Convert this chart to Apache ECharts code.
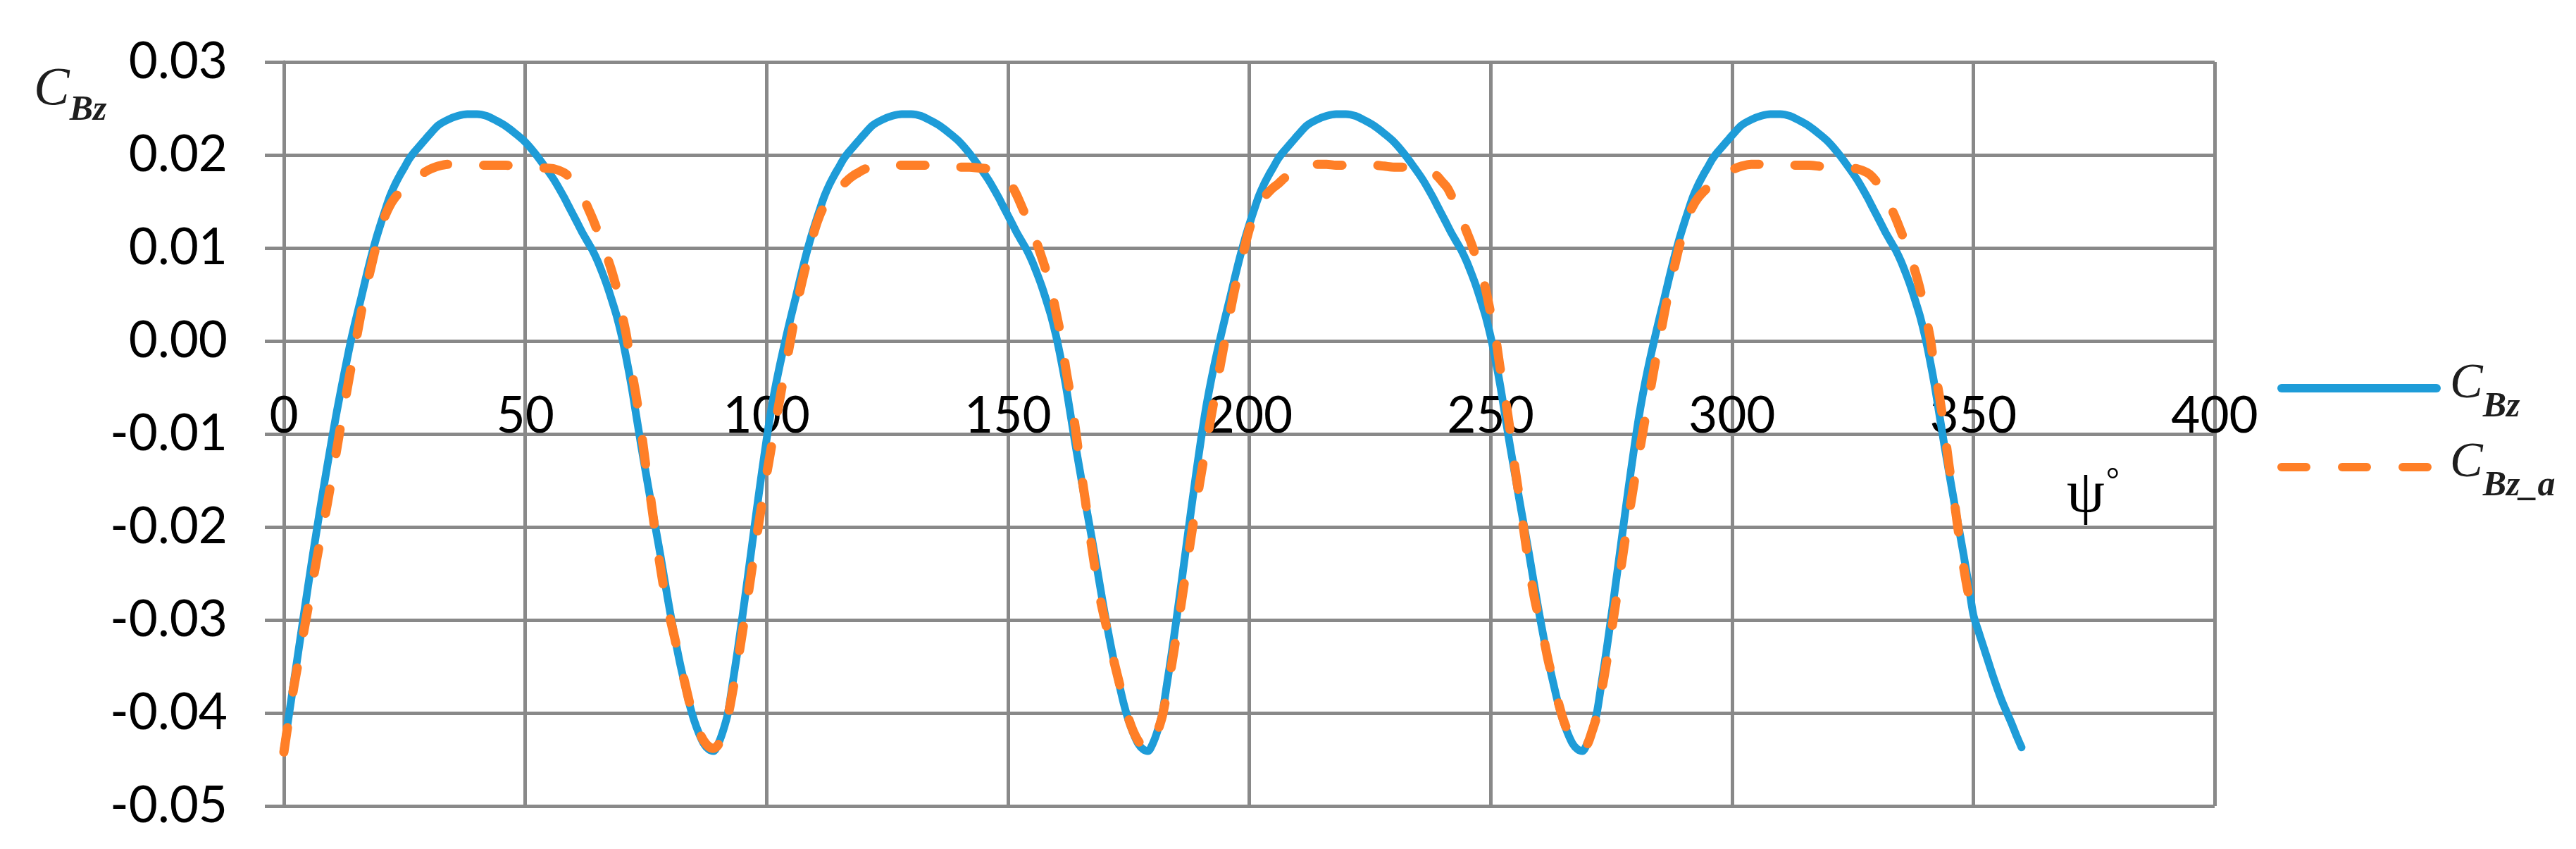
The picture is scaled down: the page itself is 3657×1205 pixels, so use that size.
<!DOCTYPE html>
<html>
<head>
<meta charset="utf-8">
<script src="https://cdn.jsdelivr.net/npm/echarts@6/dist/echarts.min.js"></script>
<style>
html,body{margin:0;padding:0;background:#fff;}
#chart{width:3657px;height:1205px;}
</style>
</head>
<body>
<div id="chart"></div>
<script>
// psi (degrees) and C_Bz values
const psi = [
0,1,2,3,4,5,6,7,8,9,10,11,12,13,14,15,16,17,18,19,20,21,22,23,24,25,26,27,28,29,30,32,34,36,38,40,42,44,46,48,50,52,54,56,58,59,60,61,62,63,64,65,66,67,68,69,70,71,72,73,74,75,76,77,78,79,80,81,82,83,84,85,86,87,88,89,
90,91,92,93,94,95,96,97,98,99,100,101,102,103,104,105,106,107,108,109,110,111,112,113,114,115,116,117,118,119,120,122,124,126,128,130,132,134,136,138,140,142,144,146,148,149,150,151,152,153,154,155,156,157,158,159,160,161,162,163,164,165,166,167,168,169,170,171,172,173,174,175,176,177,178,179,
180,181,182,183,184,185,186,187,188,189,190,191,192,193,194,195,196,197,198,199,200,201,202,203,204,205,206,207,208,209,210,212,214,216,218,220,222,224,226,228,230,232,234,236,238,239,240,241,242,243,244,245,246,247,248,249,250,251,252,253,254,255,256,257,258,259,260,261,262,263,264,265,266,267,268,269,
270,271,272,273,274,275,276,277,278,279,280,281,282,283,284,285,286,287,288,289,290,291,292,293,294,295,296,297,298,299,300,302,304,306,308,310,312,314,316,318,320,322,324,326,328,329,330,331,332,333,334,335,336,337,338,339,340,341,342,343,344,345,346,347,348,349,
350,351,352,353,354,355,356,357,358,359,360
];
const cbz = [
-0.0439,-0.0404,-0.0369,-0.0334,-0.0299,-0.0264,-0.0230,-0.0197,-0.0165,-0.0134,-0.0104,-0.0075,-0.0048,-0.0022,0.0003,0.0025,0.0046,0.0068,0.0089,0.0108,0.0125,0.0141,0.0156,0.0168,0.0178,0.0187,0.0196,0.0203,0.0209,0.0215,
0.0221,0.0232,0.0238,0.0242,0.0244,0.0244,0.0242,0.0237,0.0231,0.0223,0.0214,0.0202,0.0188,0.0173,0.0155,
0.0145,0.0135,0.0125,0.0115,0.0106,0.0097,0.0086,0.0073,0.0059,0.0043,0.0026,0.0005,-0.0020,-0.0048,-0.0080,-0.0112,-0.0142,-0.0172,-0.0201,-0.0230,-0.0261,-0.0291,-0.0319,-0.0345,-0.0368,-0.0390,-0.0408,-0.0422,-0.0433,-0.0439,-0.0441,
-0.0433,-0.0419,-0.0400,-0.0367,-0.0333,-0.0296,-0.0258,-0.0219,-0.0180,-0.0142,-0.0106,-0.0073,-0.0045,-0.0020,0.0003,0.0025,0.0046,0.0068,0.0089,0.0108,0.0125,0.0141,0.0156,0.0168,0.0178,0.0187,0.0196,0.0203,0.0209,0.0215,
0.0221,0.0232,0.0238,0.0242,0.0244,0.0244,0.0242,0.0237,0.0231,0.0223,0.0214,0.0202,0.0188,0.0173,0.0155,
0.0145,0.0135,0.0125,0.0115,0.0106,0.0097,0.0086,0.0073,0.0059,0.0043,0.0026,0.0005,-0.0020,-0.0048,-0.0080,-0.0112,-0.0142,-0.0172,-0.0201,-0.0230,-0.0261,-0.0291,-0.0319,-0.0345,-0.0368,-0.0390,-0.0408,-0.0422,-0.0433,-0.0439,-0.0441,
-0.0433,-0.0419,-0.0400,-0.0367,-0.0333,-0.0296,-0.0258,-0.0219,-0.0180,-0.0142,-0.0106,-0.0073,-0.0045,-0.0020,0.0003,0.0025,0.0046,0.0068,0.0089,0.0108,0.0125,0.0141,0.0156,0.0168,0.0178,0.0187,0.0196,0.0203,0.0209,0.0215,
0.0221,0.0232,0.0238,0.0242,0.0244,0.0244,0.0242,0.0237,0.0231,0.0223,0.0214,0.0202,0.0188,0.0173,0.0155,
0.0145,0.0135,0.0125,0.0115,0.0106,0.0097,0.0086,0.0073,0.0059,0.0043,0.0026,0.0005,-0.0020,-0.0048,-0.0080,-0.0112,-0.0142,-0.0172,-0.0201,-0.0230,-0.0261,-0.0291,-0.0319,-0.0345,-0.0368,-0.0390,-0.0408,-0.0422,-0.0433,-0.0439,-0.0441,
-0.0433,-0.0419,-0.0400,-0.0367,-0.0333,-0.0296,-0.0258,-0.0219,-0.0180,-0.0142,-0.0106,-0.0073,-0.0045,-0.0020,0.0003,0.0025,0.0046,0.0068,0.0089,0.0108,0.0125,0.0141,0.0156,0.0168,0.0178,0.0187,0.0196,0.0203,0.0209,0.0215,
0.0221,0.0232,0.0238,0.0242,0.0244,0.0244,0.0242,0.0237,0.0231,0.0223,0.0214,0.0202,0.0188,0.0173,0.0155,
0.0145,0.0135,0.0125,0.0115,0.0106,0.0097,0.0086,0.0073,0.0059,0.0043,0.0026,0.0005,-0.0020,-0.0048,-0.0080,-0.0112,-0.0142,-0.0172,-0.0201,-0.0230,-0.0261,
-0.0294,-0.0311,-0.0327,-0.0343,-0.0359,-0.0374,-0.0388,-0.0400,-0.0412,-0.0425,-0.0437
];
// psi (degrees) and C_Bz_a values
const psiA = [
0,1,2,3,4,5,6,7,8,9,10,11,12,13,14,15,16,17,18,19,20,21,22,23,24,25,26,27,28,29,30,32,34,36,38,40,42,44,46,48,50,52,54,56,58,59,60,61,62,63,64,65,66,67,68,69,70,71,72,73,74,75,76,77,78,79,80,81,82,83,84,85,86,87,88,89,
90,91,92,93,94,95,96,97,98,99,100,101,102,103,104,105,106,107,108,109,110,111,112,113,114,115,116,117,118,119,120,122,124,126,128,130,132,134,136,138,140,142,144,146,148,149,150,151,152,153,154,155,156,157,158,159,160,161,162,163,164,165,166,167,168,169,170,171,172,173,174,175,176,177,178,179,
180,181,182,183,184,185,186,187,188,189,190,191,192,193,194,195,196,197,198,199,200,201,202,203,204,205,206,207,208,209,210,212,214,216,218,220,222,224,226,228,230,232,234,236,238,239,240,241,242,243,244,245,246,247,248,249,250,251,252,253,254,255,256,257,258,259,260,261,262,263,264,265,266,267,268,269,
270,271,272,273,274,275,276,277,278,279,280,281,282,283,284,285,286,287,288,289,290,291,292,293,294,295,296,297,298,299,300,302,304,306,308,310,312,314,316,318,320,322,324,326,328,329,330,331,332,333,334,335,336,337,338,339,340,341,342,343,344,345,346,347,348,349,
350
];
const cbzA = [
-0.0442,-0.0407,-0.0374,-0.0345,-0.0316,-0.0287,-0.0258,-0.0229,-0.0202,-0.0175,-0.0145,-0.0115,-0.0084,-0.0055,-0.0026,0.0002,0.0030,0.0056,0.0078,0.0100,0.0120,0.0135,0.0146,0.0154,0.0160,0.0165,0.0169,0.0174,0.0178,0.0181,
0.0184,0.0188,0.0190,0.0190,0.0189,0.0189,0.0189,0.0189,0.0189,0.0188,0.0187,0.0187,0.0186,0.0185,0.0181,
0.0177,0.0171,0.0165,0.0155,0.0143,0.0131,0.0118,0.0105,0.0090,0.0074,0.0055,0.0030,0.0005,-0.0030,-0.0060,-0.0095,-0.0135,-0.0170,-0.0208,-0.0243,-0.0274,-0.0298,-0.0320,-0.0345,-0.0366,-0.0388,-0.0406,-0.0420,-0.0430,-0.0436,-0.0438,
-0.0434,-0.0420,-0.0403,-0.0376,-0.0346,-0.0313,-0.0279,-0.0244,-0.0209,-0.0176,-0.0144,-0.0114,-0.0084,-0.0055,-0.0026,0.0002,0.0030,0.0056,0.0078,0.0100,0.0120,0.0135,0.0146,0.0154,0.0160,0.0165,0.0169,0.0174,0.0178,0.0181,
0.0184,0.0188,0.0190,0.0190,0.0189,0.0189,0.0189,0.0189,0.0189,0.0188,0.0187,0.0187,0.0186,0.0185,0.0181,
0.0177,0.0171,0.0165,0.0155,0.0143,0.0131,0.0118,0.0105,0.0090,0.0074,0.0055,0.0030,0.0005,-0.0030,-0.0060,-0.0095,-0.0135,-0.0170,-0.0208,-0.0243,-0.0274,-0.0298,-0.0320,-0.0345,-0.0366,-0.0388,-0.0406,-0.0420,-0.0430,-0.0436,-0.0438,
-0.0434,-0.0420,-0.0403,-0.0376,-0.0346,-0.0313,-0.0279,-0.0244,-0.0209,-0.0176,-0.0144,-0.0114,-0.0084,-0.0055,-0.0026,0.0002,0.0030,0.0056,0.0078,0.0100,0.0120,0.0135,0.0146,0.0154,0.0160,0.0165,0.0169,0.0174,0.0178,0.0181,
0.0184,0.0188,0.0190,0.0190,0.0189,0.0189,0.0189,0.0189,0.0189,0.0188,0.0187,0.0187,0.0186,0.0185,0.0181,
0.0177,0.0171,0.0165,0.0155,0.0143,0.0131,0.0118,0.0105,0.0090,0.0074,0.0055,0.0030,0.0005,-0.0030,-0.0060,-0.0095,-0.0135,-0.0170,-0.0208,-0.0243,-0.0274,-0.0298,-0.0320,-0.0345,-0.0366,-0.0388,-0.0406,-0.0420,-0.0430,-0.0436,-0.0438,
-0.0434,-0.0420,-0.0403,-0.0376,-0.0346,-0.0313,-0.0279,-0.0244,-0.0209,-0.0176,-0.0144,-0.0114,-0.0084,-0.0055,-0.0026,0.0002,0.0030,0.0056,0.0078,0.0100,0.0120,0.0135,0.0146,0.0154,0.0160,0.0165,0.0169,0.0174,0.0178,0.0181,
0.0184,0.0188,0.0190,0.0190,0.0189,0.0189,0.0189,0.0189,0.0189,0.0188,0.0187,0.0187,0.0186,0.0185,0.0181,
0.0177,0.0171,0.0165,0.0155,0.0143,0.0131,0.0118,0.0105,0.0090,0.0074,0.0055,0.0030,0.0005,-0.0030,-0.0060,-0.0095,-0.0135,-0.0170,-0.0208,-0.0243,-0.0272,
-0.0292
];
const xTicks = {min: 0, max: 400, step: 50};
const yTicks = {min: -0.05, max: 0.03, step: 0.01};
const seriesNames = ['C_Bz', 'C_Bz_a'];
const legendLabels = {'C_Bz': ['C', 'Bz'], 'C_Bz_a': ['C', 'Bz_a']};
const yTitle = ['C', 'Bz'];
const xTitle = ['ψ', '°'];

const GRID = '#898989';
const richMath = {
  c: {fontFamily: 'Liberation Serif', fontStyle: 'italic', fontWeight: 'normal', fontSize: 70, color: '#1e1e1e', lineHeight: 80, verticalAlign: 'top'},
  s: {fontFamily: 'Liberation Serif', fontStyle: 'italic', fontWeight: 'bold', fontSize: 50, color: '#1e1e1e', lineHeight: 50, padding: [42, 0, 0, 0], verticalAlign: 'top'}
};

const chart = echarts.init(document.getElementById('chart'), null, {renderer: 'canvas', devicePixelRatio: 1});
chart.setOption({
  animation: false,
  backgroundColor: '#ffffff',
  grid: {left: 403, right: 513, top: 88, bottom: 61, containLabel: false},
  title: [
    {text: '{c|' + yTitle[0] + '}{s|' + yTitle[1] + '}', left: 48, top: 90, padding: 0,
     textStyle: {fontWeight: 'normal', rich: {c: Object.assign({}, richMath.c, {fontSize: 76}), s: richMath.s}}},
    {text: '{p|' + xTitle[0] + '}{d|' + xTitle[1] + '}', left: 2934, top: 660, padding: 0,
     textStyle: {fontWeight: 'normal', rich: {
       p: {fontFamily: 'Liberation Serif', fontWeight: 'normal', fontSize: 86, color: '#000', lineHeight: 90, verticalAlign: 'top'},
       d: {fontFamily: 'Liberation Serif', fontWeight: 'normal', fontSize: 48, color: '#000', lineHeight: 50, verticalAlign: 'top', padding: [0, 0, 0, 2]}
     }}}
  ],
  legend: {
    orient: 'vertical', left: 3228, top: 506, itemWidth: 220, itemHeight: 14, itemGap: 20,
    selectedMode: false,
    data: seriesNames,
    itemStyle: {opacity: 0},
    lineStyle: {width: 12, cap: 'round'},
    formatter: function (name) {
      const l = legendLabels[name];
      return '{c|' + l[0] + '}{s|' + l[1] + '}';
    },
    textStyle: {rich: richMath, padding: [0, 0, 0, 14]}
  },
  xAxis: {
    type: 'value', min: xTicks.min, max: xTicks.max, interval: xTicks.step,
    position: 'bottom', offset: -660,
    axisLine: {show: true, onZero: false, lineStyle: {color: GRID, width: 5}},
    axisTick: {show: false},
    splitLine: {show: true, lineStyle: {color: GRID, width: 5}},
    axisLabel: {fontFamily: 'Lato', fontSize: 71, color: '#000', margin: 72, showMinLabel: true, showMaxLabel: true}
  },
  yAxis: {
    type: 'value', min: yTicks.min, max: yTicks.max, interval: yTicks.step,
    axisLine: {show: true, onZero: false, lineStyle: {color: GRID, width: 5}},
    axisTick: {show: true, length: 27, lineStyle: {color: GRID, width: 5}},
    splitLine: {show: true, lineStyle: {color: GRID, width: 5}},
    axisLabel: {fontFamily: 'Lato', fontSize: 71, color: '#000', margin: 80,
      formatter: function (v) { return Math.abs(v) < 1e-9 ? '0.00' : v.toFixed(2); }}
  },
  series: [
    {
      name: seriesNames[0], type: 'line', showSymbol: false, symbol: 'none', smooth: 0.3,
      data: psi.map((x, i) => [x, cbz[i]]),
      lineStyle: {color: '#1E9CD8', width: 11, cap: 'round', join: 'round'},
      itemStyle: {color: '#1E9CD8'}
    },
    {
      name: seriesNames[1], type: 'line', showSymbol: false, symbol: 'none', smooth: 0.3,
      data: psiA.map((x, i) => [x, cbzA[i]]),
      lineStyle: {color: '#FF7F27', width: 13, type: [35, 51], cap: 'round', join: 'round'},
      itemStyle: {color: '#FF7F27'}
    }
  ]
});
</script>
</body>
</html>
